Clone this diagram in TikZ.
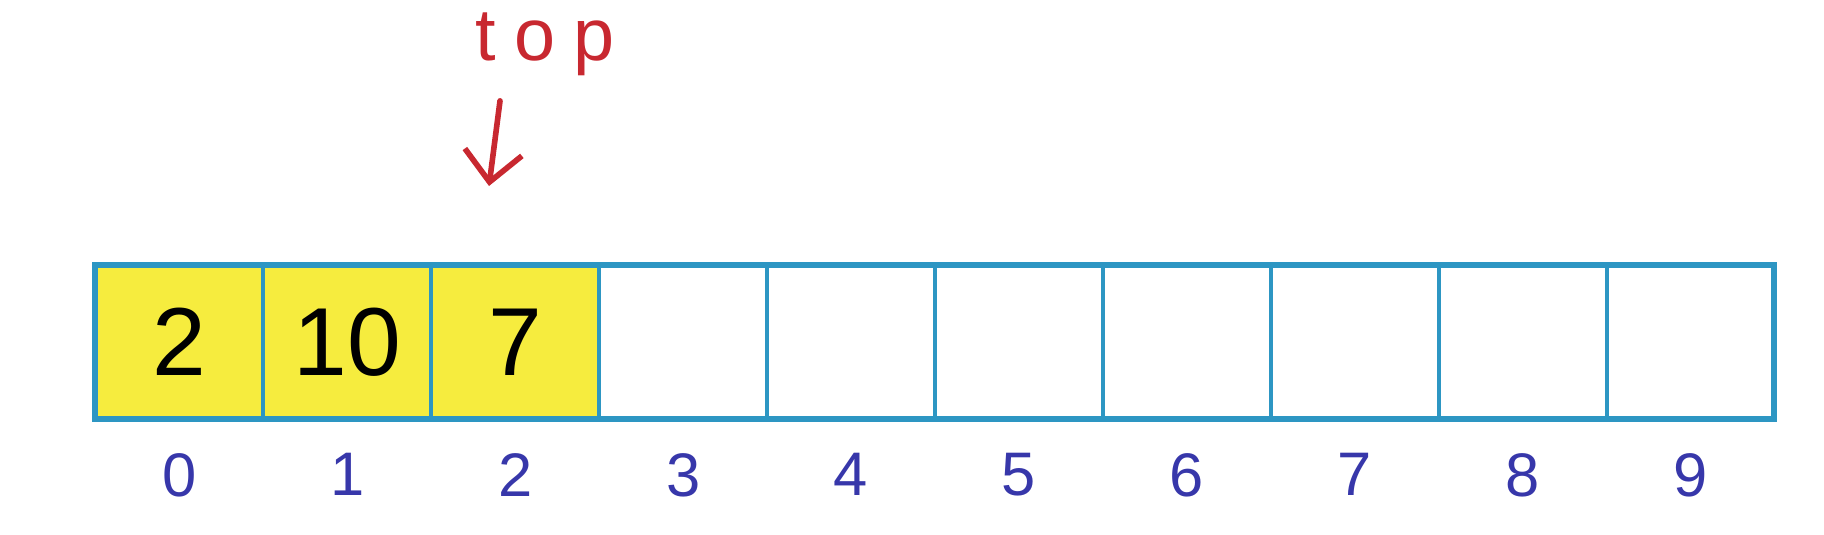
\documentclass[tikz,border=0pt]{standalone}
\usepackage{fontspec}
\setmainfont{Liberation Sans}
\usetikzlibrary{arrows.meta, positioning}
\definecolor{cellblue}{RGB}{45,150,195}
\definecolor{cellyellow}{RGB}{246,236,62}
\definecolor{indexblue}{RGB}{55,55,170}
\definecolor{topred}{RGB}{200,40,48}
\tikzset{
  cell/.style = {rectangle, draw=cellblue, line width=2.2pt, minimum width=3.358cm, minimum height=3.08cm, inner sep=0pt, outer sep=0pt, font=\fontsize{55}{62}\selectfont},
  filled/.style = {cell, fill=cellyellow},
  index/.style = {text=indexblue, inner sep=0pt, font=\fontsize{35}{40}\selectfont},
  toplabel/.style = {text=topred, inner sep=0pt, font=\fontsize{42}{50}\selectfont\addfontfeature{LetterSpace=25}},
  pointer/.style = {-{Straight Barb[length=0.6cm, width=1.15cm]}, draw=topred, line width=3.2pt, line cap=round}
}

\begin{document}
\begin{tikzpicture}[x=0.02cm, y=-0.02cm]
\useasboundingbox (0,0) rectangle (1824,534);

% Cells
\foreach \i/\v in {0/2, 1/10, 2/7} {
  \node[filled] (c\i) at (179.4+167.9*\i, 342) {\raisebox{-0.1cm}{\v}};
}
\foreach \i in {3,...,9} {
  \node[cell] (c\i) at (179.4+167.9*\i, 342) {};
}
\draw[cellblue, line width=3.4pt] (c0.north west) rectangle (c9.south east);

% Indices
\foreach \i in {0,...,9} {
  \node[index, below=0.68cm of c\i] (i\i) {\i};
}

% Top pointer
\node[toplabel] (top) at (545,44) {top};
\coordinate (ptrtip) at (489,186);
\draw[pointer] ([xshift=-0.9cm, yshift=-0.5cm]top.south) -- (ptrtip);

\end{tikzpicture}
\end{document}
